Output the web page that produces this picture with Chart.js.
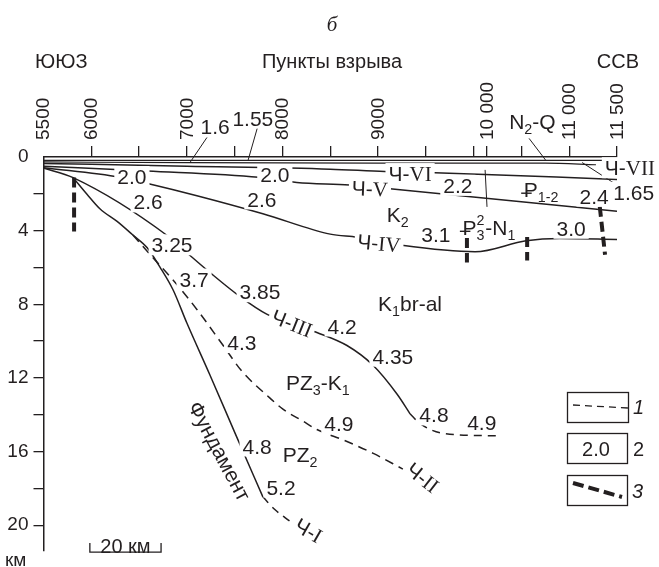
<!DOCTYPE html>
<html>
<head>
<meta charset="utf-8">
<script src="https://cdn.jsdelivr.net/npm/chart.js@4"></script>
<style>
  html, body { margin: 0; padding: 0; background: #fff; }
  #wrap { width: 659px; height: 567px; position: relative; }
</style>
</head>
<body>
<div id="wrap"><canvas id="section" width="659" height="567"></canvas></div>
<script>
// ---- profile geometry: x in ruler divisions along the line, y in km depth ----
const rulerMarks      = [1, 2, 3, 4, 5, 6, 7, 8, 9, 9.28, 10, 11, 12];
const shotPointPos    = [0, 1, 3, 5, 7, 9.28, 11, 12];
const shotPointLabels = ['5500', '6000', '7000', '8000', '9000', '10 000', '11 000', '11 500'];
const depthTicks      = [0, 2, 4, 6, 8, 10, 12, 14, 16, 18, 20];
const depthLabelStep  = 4;

// reflecting horizons [x, depth km]
const surfaceLine = [[0, 0.18], [12, 0.18]];
const horizonVII  = [[0, 0.27], [3, 0.31], [7, 0.33], [10.5, 0.33], [11.56, 0.42]];
const horizonVI   = [[0, 0.35], [3, 0.5], [6, 0.66], [7.14, 0.79], [8.19, 0.85], [12, 1.22]];
const horizonV    = [[0, 0.5], [2.17, 0.76], [4.5, 1.1], [5.3, 1.38], [6.4, 1.52], [7.25, 1.73], [12, 2.95]];
const horizonIV   = [[0, 0.58], [1.6, 1.1], [2.2, 1.45], [3.21, 2.1], [4.59, 3.08], [6, 4.19], [6.56, 4.36],
                     [7.5, 4.8], [9.03, 5.15], [10.1, 4.55], [10.8, 4.43], [12, 4.48]];
const horizonIII  = [[0, 0.6], [0.62, 1.12], [2.58, 4.25], [3.0, 5.2], [3.48, 6.27], [4.11, 7.58], [4.68, 8.55],
                     [5.72, 9.53], [6.35, 10.24], [6.89, 11.3], [7.4, 12.89], [7.67, 13.95]];
const horizonIIIinferred = [[7.67, 13.95], [7.88, 14.48], [8.36, 15.01], [9.49, 15.15]];
const horizonIIinferred  = [[1.87, 4.24], [2.23, 5.3], [2.71, 6.68], [3.21, 8.28], [3.76, 10.24], [4.14, 11.6],
                            [4.74, 13.1], [5.01, 13.7], [5.43, 14.35], [5.72, 14.8], [6.3, 15.4], [6.9, 16.1], [7.52, 16.95]];
const basement    = [[0.62, 1.12], [0.91, 2.02], [1.18, 2.81], [1.54, 3.5], [1.87, 4.24], [2.17, 4.93], [2.44, 5.99],
                     [2.71, 7.21], [3.0, 9.02], [3.48, 11.83], [4.01, 15.01], [4.59, 18.46]];
const basementInferred = [[4.59, 18.46], [4.84, 19.15], [5.16, 19.79]];

// faults
const faultA = [[0.64, 1.11], [0.64, 4.04]];
const faultB = [[8.86, 4.4], [8.86, 5.73]];
const faultC = [[10.12, 4.35], [10.12, 5.62]];
const faultD = [[11.64, 2.71], [11.75, 5.31]];

// leader lines to labels
const leaders = [
  [[3.42, -1.06], [3.06, 0.32]],
  [[4.47, -1.54], [4.28, 0.18]],
  [[10.16, -1.01], [10.51, 0.18]],
  [[11.27, 0.3], [11.98, 1.49]],
  [[9.24, 0.7], [9.28, 2.71]]
];

// scale ruler, in ruler divisions
const rulerStart = 0.97, rulerEnd = 2.46, rulerText = '20 км';

// text set along the section: [parts, x, depth, rotation°, white backing]
const n = t => [['n', t]];
const ch = r => [['n', 'Ч-'], ['s', r]];
const sectionLabels = [
  [n('1.6'), 3.59, -1.64, 0, false],
  [n('1.55'), 4.38, -2.12, 0, false],
  [[['n', 'N'], ['sub', '2'], ['n', '-Q']], 10.23, -1.91, 0, false],
  [n('2.0'), 1.85, 1.06, 0, true],
  [n('2.0'), 4.84, 0.95, 0, true],
  [n('2.6'), 2.19, 2.44, 0, true],
  [n('2.6'), 4.57, 2.28, 0, true],
  [ch('VI'), 7.67, 0.9, 0, true],
  [ch('V'), 6.83, 1.7, 2, true],
  [ch('IV'), 7.02, 4.67, 5, true],
  [ch('VII'), 12.27, 0.58, 0, true],
  [n('1.65'), 12.35, 1.91, 0, true],
  [n('2.2'), 8.67, 1.54, 0, true],
  [[['P', ''], ['sub', '1-2']], 10.41, 1.75, 0, true],
  [n('2.4'), 11.52, 2.12, 0, true],
  [[['n', 'K'], ['sub', '2']], 7.41, 3.13, 0, true],
  [[['P', ''], ['ss', '3|2'], ['n', '-N'], ['sub', '1']], 9.32, 3.82, 0, true],
  [n('3.1'), 8.21, 4.19, 0, true],
  [n('3.0'), 11.04, 3.87, 0, true],
  [[['n', 'K'], ['sub', '1'], ['n', 'br-al']], 7.67, 7.96, 0, true],
  [n('3.25'), 2.69, 4.77, 0, true],
  [n('3.7'), 3.15, 6.63, 0, true],
  [n('3.85'), 4.53, 7.32, 0, true],
  [ch('III'), 5.2, 9.02, 22, true],
  [n('4.2'), 6.25, 9.18, 0, true],
  [n('4.35'), 7.31, 10.82, 0, true],
  [n('4.3'), 4.15, 10.08, 0, true],
  [[['n', 'PZ'], ['sub', '3'], ['n', '-K'], ['sub', '1']], 5.74, 12.26, 0, true],
  [n('4.9'), 6.18, 14.48, 0, true],
  [n('4.8'), 8.17, 14.01, 0, true],
  [n('4.9'), 9.17, 14.43, 0, true],
  [n('4.8'), 4.47, 15.7, 0, true],
  [[['n', 'PZ'], ['sub', '2']], 5.37, 16.18, 0, true],
  [n('5.2'), 4.97, 17.93, 0, true],
  [n('Фундамент'), 3.69, 15.97, 62, false],
  [ch('II'), 7.94, 17.4, 38, true],
  [ch('I'), 5.55, 20.27, 30, true]
];

const INK = '#231f20';
const SANS = '"Liberation Sans", Arial, sans-serif';
const SERIF = '"Liberation Serif", "Times New Roman", serif';

function fontFor(kind, size) {
  const small = kind === 'sub' || kind === 'sup' || kind === 'ss';
  const fam = kind === 's' ? SERIF : SANS;
  return (small ? size * 0.68 : size) + 'px ' + fam;
}

function drawRich(ctx, parts, cx, cy, rot, size, backing) {
  ctx.save();
  const items = parts.map(([k, t]) => {
    if (k === 'P') { ctx.font = fontFor('n', size); return { k, t: 'P', w: ctx.measureText('P').width }; }
    if (k === 'ss') {
      const [a, b] = t.split('|');
      ctx.font = fontFor('ss', size);
      return { k, a, b, w: Math.max(ctx.measureText(a).width, ctx.measureText(b).width) + 1 };
    }
    ctx.font = fontFor(k, size);
    return { k, t, w: ctx.measureText(t).width };
  });
  const W = items.reduce((s, i) => s + i.w, 0);
  ctx.translate(cx, cy);
  ctx.rotate(rot);
  const base = size * 0.36;
  if (backing) {
    ctx.fillStyle = '#fff';
    ctx.fillRect(-W / 2 - 3, -size * 0.5, W + 6, size);
  }
  ctx.fillStyle = INK;
  ctx.textAlign = 'left';
  ctx.textBaseline = 'alphabetic';
  let x = -W / 2;
  for (const it of items) {
    if (it.k === 'ss') {
      ctx.font = fontFor('ss', size);
      ctx.fillText(it.a, x, base + size * 0.24);
      ctx.fillText(it.b, x, base - size * 0.45);
    } else if (it.k === 'sub') {
      ctx.font = fontFor('sub', size);
      ctx.fillText(it.t, x, base + size * 0.24);
    } else if (it.k === 'sup') {
      ctx.font = fontFor('sup', size);
      ctx.fillText(it.t, x, base - size * 0.45);
    } else {
      ctx.font = fontFor(it.k === 'P' ? 'n' : it.k, size);
      ctx.fillText(it.t, x, base);
      if (it.k === 'P') {
        ctx.strokeStyle = INK;
        ctx.lineWidth = 1.4;
        ctx.beginPath();
        ctx.moveTo(x - size * 0.12, base - size * 0.17);
        ctx.lineTo(x + size * 0.38, base - size * 0.17);
        ctx.stroke();
      }
    }
    x += it.w;
  }
  ctx.restore();
}

const sectionText = {
  id: 'sectionText',
  afterDraw(chart) {
    const ctx = chart.ctx;
    const xs = chart.scales.x, ys = chart.scales.y;

    // shot point numbers along the top ruler, set vertically
    ctx.save();
    ctx.fillStyle = INK;
    ctx.font = '19px ' + SANS;
    ctx.textAlign = 'left';
    ctx.textBaseline = 'middle';
    shotPointPos.forEach((p, i) => {
      ctx.save();
      ctx.translate(xs.getPixelForValue(p), chart.chartArea.top - 17);
      ctx.rotate(-Math.PI / 2);
      ctx.fillText(shotPointLabels[i], 0, 0.5);
      ctx.restore();
    });
    ctx.restore();

    for (const [parts, x, d, rot, backing] of sectionLabels) {
      drawRich(ctx, parts, xs.getPixelForValue(x), ys.getPixelForValue(d), rot * Math.PI / 180, 21, backing);
    }

    ctx.save();
    ctx.fillStyle = INK;
    ctx.textBaseline = 'alphabetic';
    // headings
    ctx.font = 'italic 21px ' + SERIF;
    ctx.textAlign = 'center';
    ctx.fillText('б', 332, 31);
    ctx.font = '20px ' + SANS;
    ctx.textAlign = 'left';
    ctx.fillText('ЮЮЗ', 35, 68);
    ctx.textAlign = 'center';
    ctx.fillText('Пункты взрыва', 332, 68);
    ctx.textAlign = 'right';
    ctx.fillText('ССВ', 639, 68);

    // depth unit
    ctx.font = '19px ' + SANS;
    ctx.textAlign = 'left';
    ctx.fillText('км', 5, 566);

    // scale ruler
    const r0 = xs.getPixelForValue(rulerStart), r1 = xs.getPixelForValue(rulerEnd);
    const ry = chart.chartArea.bottom + 1.5;
    ctx.strokeStyle = INK;
    ctx.lineWidth = 1.3;
    ctx.beginPath();
    ctx.moveTo(r0, ry - 9); ctx.lineTo(r0, ry); ctx.lineTo(r1, ry); ctx.lineTo(r1, ry - 9);
    ctx.stroke();
    ctx.font = '20px ' + SANS;
    ctx.textAlign = 'center';
    ctx.fillText(rulerText, (r0 + r1) / 2, 553);

    // legend
    ctx.lineWidth = 1.3;
    ctx.strokeRect(567.5, 392.5, 61, 30);
    ctx.strokeRect(567.5, 433.5, 60, 30);
    ctx.strokeRect(567.5, 475.5, 60, 30);
    ctx.save();
    ctx.setLineDash([7, 5]);
    ctx.lineWidth = 1.3;
    ctx.beginPath(); ctx.moveTo(573, 405); ctx.lineTo(628, 408); ctx.stroke();
    ctx.setLineDash([11, 5]);
    ctx.lineWidth = 4;
    ctx.beginPath(); ctx.moveTo(573, 483); ctx.lineTo(622, 497); ctx.stroke();
    ctx.restore();
    ctx.font = '20px ' + SANS;
    ctx.textAlign = 'center';
    ctx.fillText('2.0', 596, 456);
    ctx.textAlign = 'left';
    ctx.font = 'italic 20px ' + SANS;
    ctx.fillText('1', 633, 414);
    ctx.font = '20px ' + SANS;
    ctx.fillText('2', 633, 456);
    ctx.font = 'italic 20px ' + SANS;
    ctx.fillText('3', 632, 498);
    ctx.restore();
  }
};

const pts = arr => arr.map(([x, y]) => ({ x, y }));
const line = (arr, extra) => Object.assign({
  data: pts(arr), borderColor: INK, borderWidth: 1.5, pointRadius: 0, fill: false,
  cubicInterpolationMode: 'monotone'
}, extra || {});

const datasets = [
  line(surfaceLine, { borderWidth: 1.2 }),
  line(horizonVII, { borderWidth: 1.2 }),
  line(horizonVI),
  line(horizonV),
  line(horizonIV),
  line(horizonIII),
  line(horizonIIIinferred, { borderDash: [8, 6] }),
  line(horizonIIinferred, { borderDash: [9, 6] }),
  line(basement),
  line(basementInferred, { borderDash: [8, 6] }),
  ...[faultA, faultB, faultC, faultD].map(f => line(f, { borderWidth: 4, borderDash: [10, 5], cubicInterpolationMode: 'default', tension: 0 })),
  ...leaders.map(l => line(l, { borderWidth: 1, clip: false, cubicInterpolationMode: 'default', tension: 0 }))
];

new Chart(document.getElementById('section'), {
  type: 'line',
  data: { datasets },
  options: {
    responsive: false,
    animation: false,
    events: [],
    layout: { padding: { left: 0, right: 42, top: 0, bottom: 7 } },
    plugins: { legend: { display: false }, tooltip: { enabled: false }, title: { display: false } },
    scales: {
      x: {
        type: 'linear', position: 'top', min: 0, max: 12,
        afterBuildTicks: s => { s.ticks = rulerMarks.map(v => ({ value: v })); },
        afterFit: s => { s.height = 157; },
        ticks: { display: false },
        grid: { drawOnChartArea: false, tickLength: 11, color: INK, lineWidth: 1.3 },
        border: { color: INK, width: 1.5 }
      },
      y: {
        type: 'linear', position: 'left', reverse: true, min: 0, max: 21.38,
        afterBuildTicks: s => { s.ticks = depthTicks.map(v => ({ value: v })); },
        afterFit: s => { s.width = 43.5; },
        ticks: {
          autoSkip: false, padding: 5, color: INK,
          font: { family: SANS, size: 19 },
          callback: v => (v % depthLabelStep === 0 ? String(v) : '')
        },
        grid: {
          drawOnChartArea: false, tickLength: 10, lineWidth: 1.3,
          color: c => (c.tick && c.tick.value === 0 ? 'rgba(0,0,0,0)' : INK)
        },
        border: { color: INK, width: 1.5 }
      }
    }
  },
  plugins: [sectionText]
});
</script>
</body>
</html>
